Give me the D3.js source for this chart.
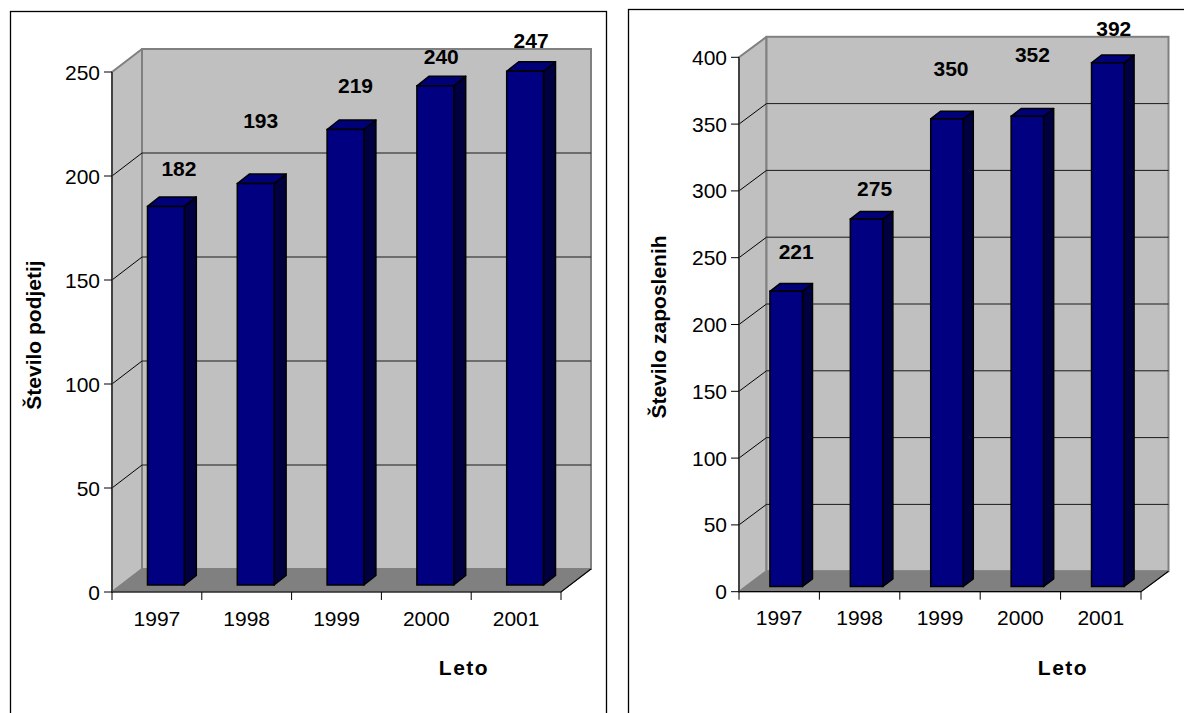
<!DOCTYPE html>
<html>
<head>
<meta charset="utf-8">
<script src="https://cdn.jsdelivr.net/npm/d3@7"></script>
<style>
  html, body { margin: 0; padding: 0; background: #fff; }
  svg { display: block; }
  text { font-family: "Liberation Sans", Arial, sans-serif; fill: #000; }
</style>
</head>
<body>
<svg id="chart" width="1184" height="713"></svg>
<script>
// Years shown on both category axes
const years = ["1997", "1998", "1999", "2000", "2001"];
// Number of companies per year
const companies = [182, 193, 219, 240, 247];
// Number of employees per year
const employees = [221, 275, 350, 352, 392];
// Value-axis ticks
const companyTicks = [0, 50, 100, 150, 200, 250];
const employeeTicks = [0, 50, 100, 150, 200, 250, 300, 350, 400];

// Hand-placed value labels: pixel nudges from the default spot above each bar
const companyLabelNudge = [[7, -6], [-1, -32], [4, -12], [0, 2], [0, 1]];
const employeeLabelNudge = [[5, -8], [3, 1], [-1, -19], [0, -30], [1, -3]];

const FONT = 21;
const svg = d3.select("#chart");

function drawChart(cfg) {
  const g = svg.append("g");

  // outer frame
  g.append("rect")
    .attr("x", cfg.frame[0]).attr("y", cfg.frame[1])
    .attr("width", cfg.frame[2]).attr("height", cfg.frame[3])
    .attr("fill", "#fff").attr("stroke", "#000").attr("stroke-width", 1.3);

  const [x0, x1] = cfg.xRange;
  const [yb, yt] = cfg.yRange;
  const dx = cfg.depth[0], dy = cfg.depth[1];

  const y = d3.scaleLinear().domain([0, d3.max(cfg.ticks)]).range([yb, yt]);
  const xCat = d3.scaleBand().domain(years).range([x0, x1]).padding(0);
  const xBar = d3.scaleBand().domain(years).range([x0, x1])
    .paddingInner(1 - cfg.barFrac).paddingOuter((1 - cfg.barFrac) / 2);

  const yMax = y(d3.max(cfg.ticks));
  const pts = p => p.map(q => q.join(",")).join(" ");

  // side wall
  g.append("polygon")
    .attr("points", pts([[x0, yMax], [x0 + dx, yMax - dy], [x0 + dx, yb - dy], [x0, yb]]))
    .attr("fill", "#c0c0c0").attr("stroke", "#808080").attr("stroke-width", 2)
    .attr("stroke-linejoin", "round");
  // back wall
  g.append("rect")
    .attr("x", x0 + dx).attr("y", yMax - dy)
    .attr("width", x1 - x0).attr("height", yb - yMax)
    .attr("fill", "#c0c0c0").attr("stroke", "#808080").attr("stroke-width", 2);

  // gridlines on both walls
  const inner = cfg.ticks.filter(t => t > 0 && t < d3.max(cfg.ticks));
  g.selectAll(".gback").data(inner).join("line")
    .attr("x1", x0 + dx).attr("x2", x1 + dx)
    .attr("y1", d => y(d) - dy).attr("y2", d => y(d) - dy)
    .attr("stroke", "#1a1a1a").attr("stroke-width", 1);
  g.selectAll(".gside").data(inner).join("line")
    .attr("x1", x0).attr("x2", x0 + dx)
    .attr("y1", d => y(d)).attr("y2", d => y(d) - dy)
    .attr("stroke", "#000").attr("stroke-width", 1);

  // floor
  g.append("polygon")
    .attr("points", pts([[x0, yb], [x1, yb], [x1 + dx, yb - dy], [x0 + dx, yb - dy]]))
    .attr("fill", "#808080").attr("stroke", "#808080").attr("stroke-width", 1);
  g.append("polyline")
    .attr("points", pts([[x0, yb], [x1, yb], [x1 + dx, yb - dy]]))
    .attr("fill", "none").attr("stroke", "#000").attr("stroke-width", 1.2);

  // value axis line with ticks and labels
  g.append("line")
    .attr("x1", x0).attr("x2", x0).attr("y1", yMax).attr("y2", yb)
    .attr("stroke", "#333").attr("stroke-width", 1.6);
  g.selectAll(".ytick").data(cfg.ticks).join("line")
    .attr("x1", x0 - 8).attr("x2", x0)
    .attr("y1", d => y(d)).attr("y2", d => y(d))
    .attr("stroke", "#000").attr("stroke-width", 1);
  g.selectAll(".ylab").data(cfg.ticks).join("text")
    .attr("x", x0 - 12).attr("y", d => y(d))
    .attr("dy", "0.36em").attr("text-anchor", "end")
    .attr("font-size", FONT).text(d => d);

  // category ticks and labels
  const bounds = years.map(d => xCat(d)).concat([x1]);
  g.selectAll(".xtick").data(bounds).join("line")
    .attr("x1", d => d).attr("x2", d => d)
    .attr("y1", yb).attr("y2", yb + 8)
    .attr("stroke", "#000").attr("stroke-width", 1);
  g.selectAll(".xlab").data(years).join("text")
    .attr("x", d => xCat(d) + xCat.bandwidth() / 2).attr("y", yb + 26)
    .attr("dy", "0.36em").attr("text-anchor", "middle")
    .attr("font-size", FONT).text(d => d);

  // 3D columns
  const bw = xBar.bandwidth();
  const [bdx, bdy] = cfg.barDepth;
  const [ox, oy] = cfg.barOffset;
  const bars = g.selectAll(".bar").data(cfg.values.map((v, i) => ({ v, year: years[i], i })))
    .join("g");
  bars.each(function (d) {
    const b = d3.select(this);
    const bx = xBar(d.year) + ox;
    const by = yb - oy;
    const top = y(d.v) - oy;
    b.append("polygon")
      .attr("points", pts([[bx + bw, top], [bx + bw + bdx, top - bdy], [bx + bw + bdx, by - bdy], [bx + bw, by]]))
      .attr("fill", "#000040").attr("stroke", "#000").attr("stroke-width", 1.5).attr("stroke-linejoin", "round");
    b.append("polygon")
      .attr("points", pts([[bx, top], [bx + bdx, top - bdy], [bx + bw + bdx, top - bdy], [bx + bw, top]]))
      .attr("fill", "#000078").attr("stroke", "#000").attr("stroke-width", 1.5).attr("stroke-linejoin", "round");
    b.append("rect")
      .attr("x", bx).attr("y", top).attr("width", bw).attr("height", by - top)
      .attr("fill", "#000080").attr("stroke", "#000").attr("stroke-width", 1.5);
    // value label
    const n = cfg.nudge[d.i];
    b.append("text")
      .attr("x", bx + bw / 2 + bdx / 2 + n[0])
      .attr("y", top - 24 + n[1])
      .attr("text-anchor", "middle").attr("font-size", FONT).attr("font-weight", "bold")
      .text(d.v);
  });

  // axis titles
  g.append("text")
    .attr("transform", `translate(${cfg.yTitlePos[0]},${cfg.yTitlePos[1]}) rotate(-90)`)
    .attr("dy", "0.36em").attr("text-anchor", "middle")
    .attr("font-size", FONT).attr("font-weight", "bold")
    .text(cfg.yTitle);
  g.append("text")
    .attr("x", cfg.xTitlePos[0]).attr("y", cfg.xTitlePos[1])
    .attr("dy", "0.36em").attr("text-anchor", "middle")
    .attr("font-size", FONT).attr("font-weight", "bold").attr("letter-spacing", 1.5)
    .text("Leto");
}

drawChart({
  frame: [10.5, 11.5, 596, 720],
  xRange: [112, 561],
  yRange: [592, 72],
  depth: [30, 23],
  barFrac: 0.41,
  barDepth: [12, 9.5],
  barOffset: [9, 7],
  ticks: companyTicks,
  values: companies,
  nudge: companyLabelNudge,
  yTitle: "Število podjetij",
  yTitlePos: [33, 335],
  xTitlePos: [464, 667]
});

drawChart({
  frame: [628.5, 9.5, 600, 720],
  xRange: [739, 1141],
  yRange: [591.7, 57.3],
  depth: [27.5, 20.5],
  barFrac: 0.405,
  barDepth: [10, 7.7],
  barOffset: [7, 5.2],
  ticks: employeeTicks,
  values: employees,
  nudge: employeeLabelNudge,
  yTitle: "Število zaposlenih",
  yTitlePos: [658, 327],
  xTitlePos: [1063, 667]
});
</script>
</body>
</html>
